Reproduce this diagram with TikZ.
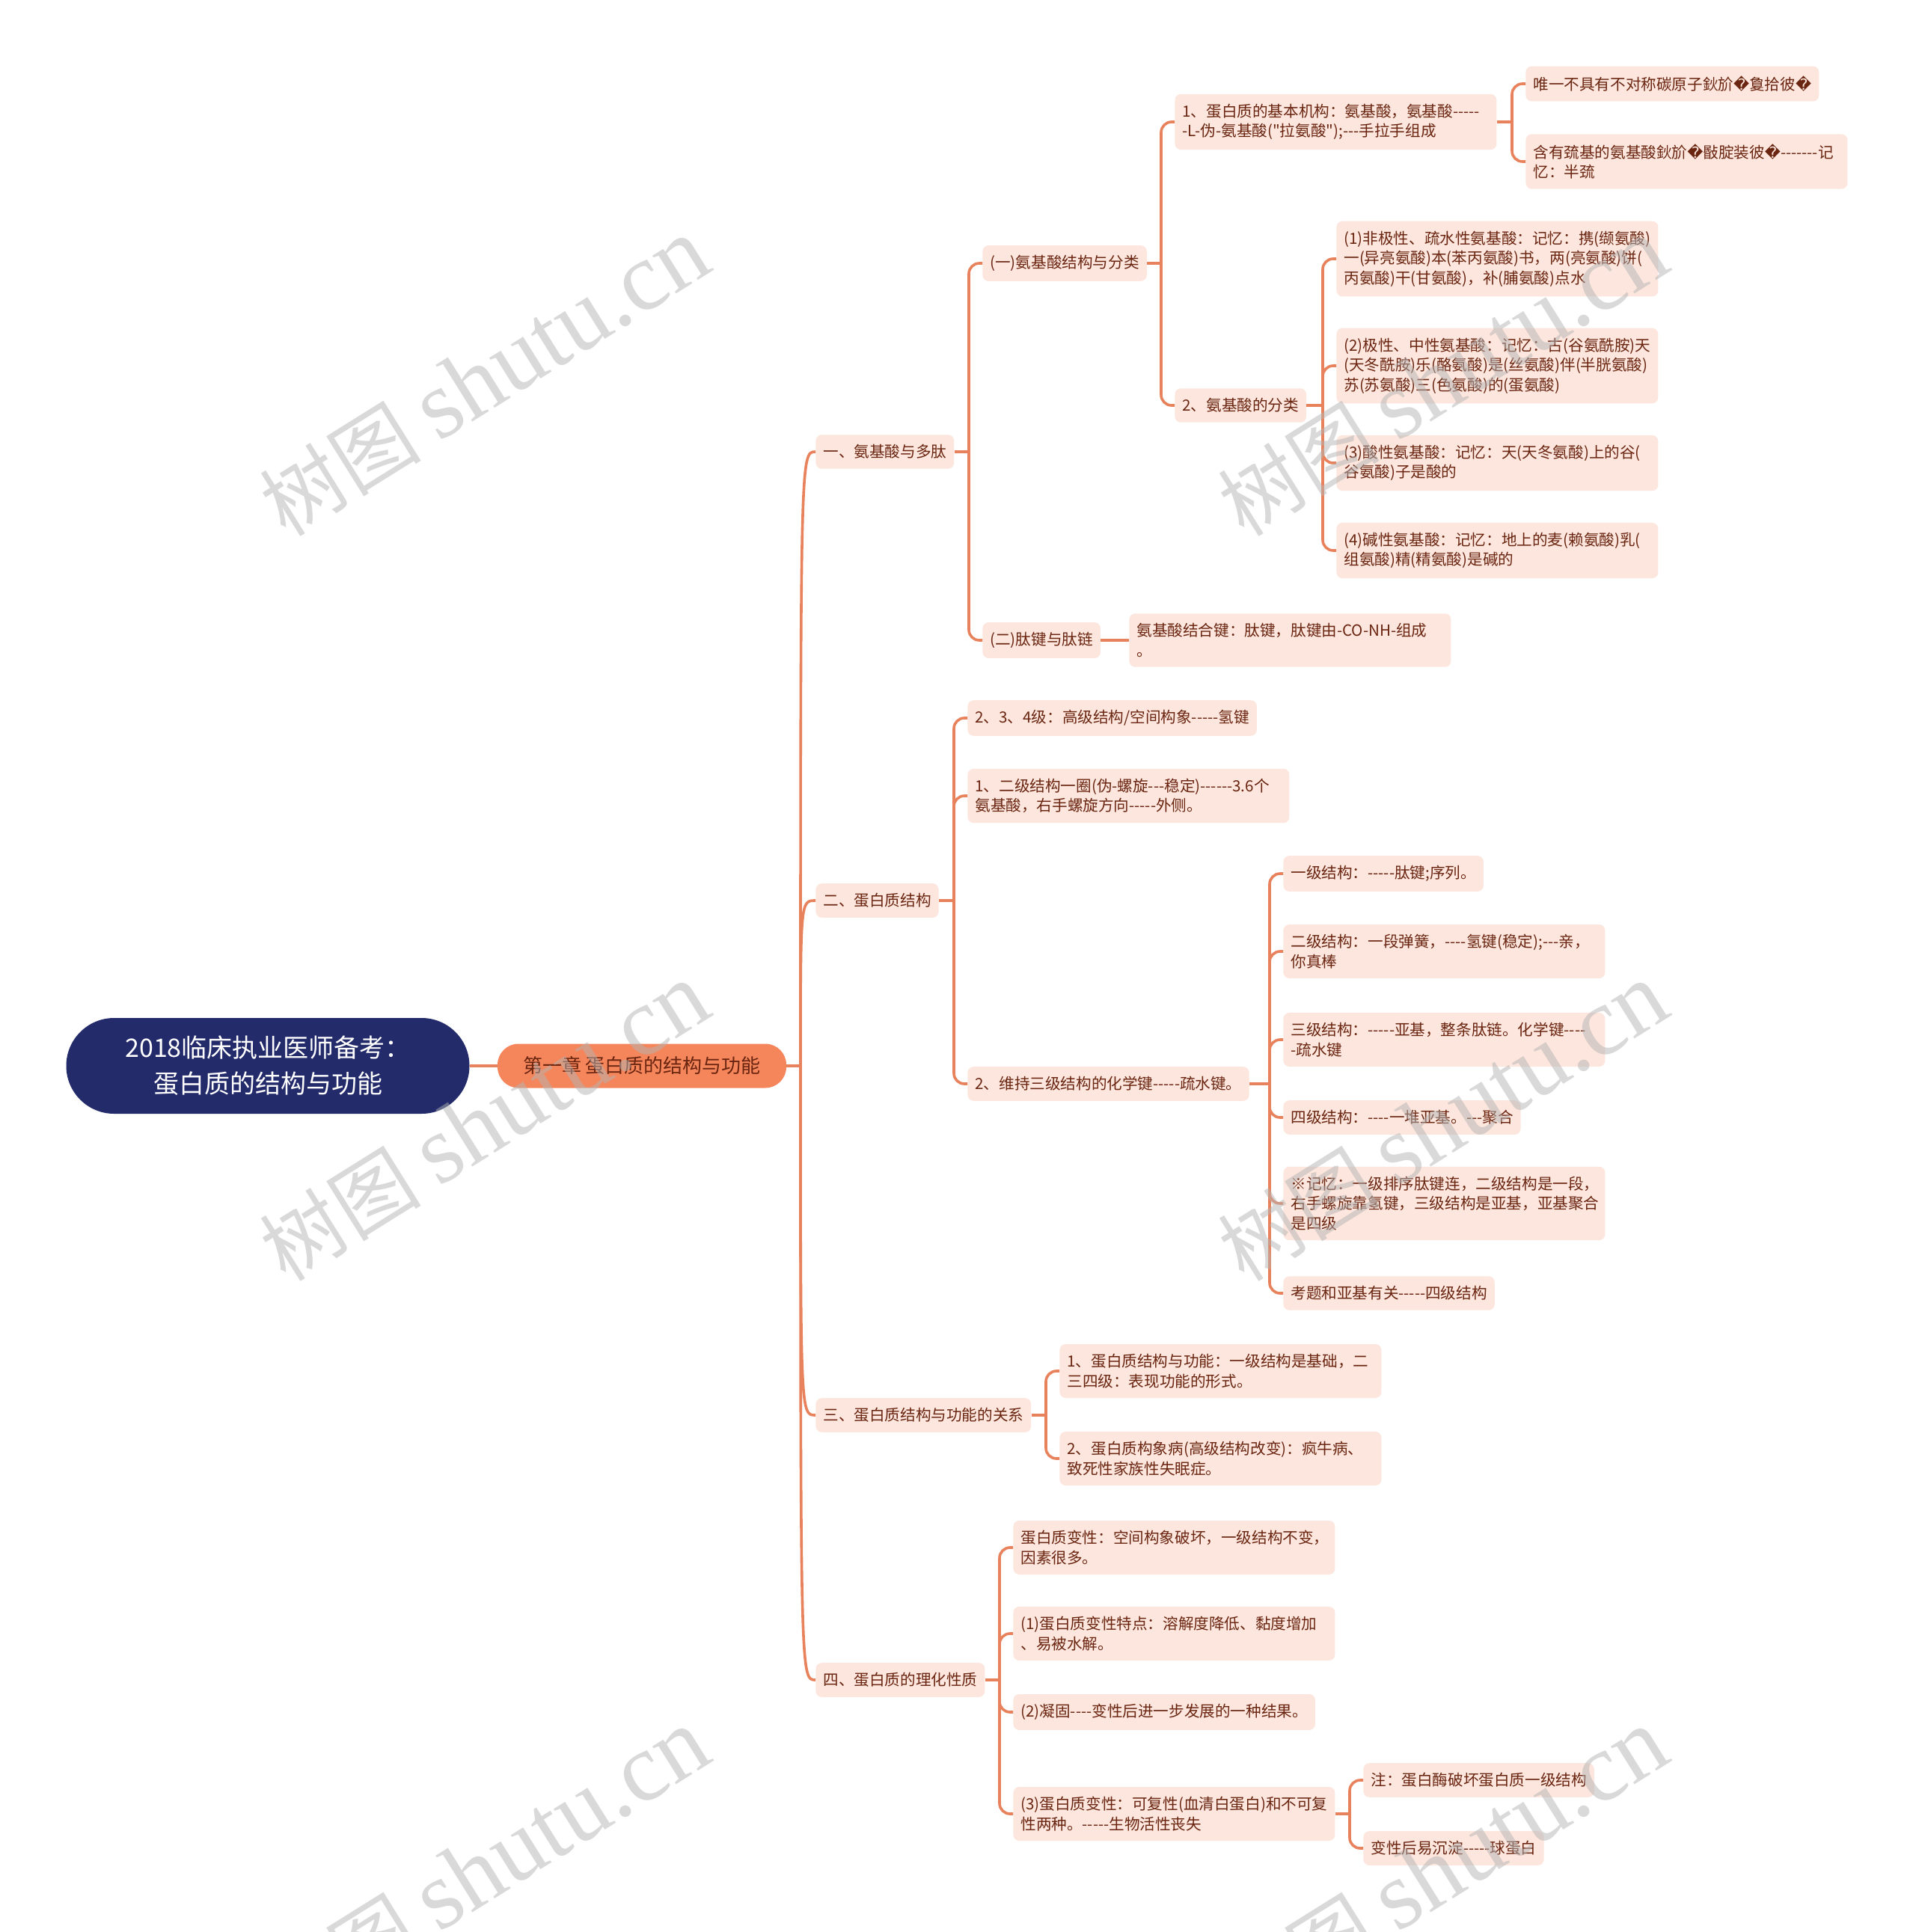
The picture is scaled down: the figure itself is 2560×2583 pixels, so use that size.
\documentclass[tikz,border=0pt]{standalone}
\usepackage{fontspec}
\newfontfamily\cjk{Noto Sans CJK SC}
\newfontfamily\repl{DejaVu Sans}
\newfontfamily\wmlatin{Liberation Serif}
\usetikzlibrary{calc}
\exhyphenpenalty=10000
\hyphenpenalty=10000

\definecolor{linkc}{HTML}{E8825C}
\definecolor{leaffill}{HTML}{FDE6DD}
\definecolor{leaftext}{HTML}{6A2511}
\definecolor{rootfill}{HTML}{232B6B}
\definecolor{chapfill}{HTML}{F5865B}
\definecolor{wmgray}{HTML}{B4B4B4}

% replacement glyph of the garbled text
\newcommand{\bad}{{\repl\char"FFFD}}

\tikzset{
  leaf/.style={fill=leaffill, text=leaftext, rounded corners=4pt, inner xsep=5pt,
    inner ysep=6.6pt, font=\cjk\fontsize{10.3}{13.2}\selectfont, align=left, anchor=west},
  wide/.style={text width=205pt},
  link/.style={draw=linkc, line width=1.8pt, rounded corners=7pt},
  wm/.style={rotate=32, text=wmgray, opacity=0.5},
}

% parent, child that fixes the fork, list of children
\newcommand{\fork}[3]{%
  \coordinate (#1f) at ($(#2.west |- #1.east)+(-18,0)$);
  \draw[link] (#1.east) -- (#1f);
  \foreach \c in {#3} \draw[link] (#1f) |- (\c.west);
}

\begin{document}
\begin{tikzpicture}[x=0.5pt, y=-0.5pt]
  \path[use as bounding box, fill=white] (0,0) rectangle (2560,2583);

  % root and chapter
  \node[fill=rootfill, text=white, rounded corners=32pt, minimum width=269.5pt,
    minimum height=64pt, align=center, font=\cjk\fontsize{17}{24}\selectfont]
    (root) at (358,1425) {2018临床执业医师备考：\\蛋白质的结构与功能};
  \node[fill=chapfill, text=leaftext, rounded corners=14pt, minimum width=193pt,
    minimum height=29.5pt, font=\cjk\fontsize{13}{15}\selectfont]
    (chap) at (858,1425) {第一章 蛋白质的结构与功能};

  % first level
  \node[leaf] (l1) at (1090,604) {一、氨基酸与多肽};
  \node[leaf] (l2) at (1090,1204) {二、蛋白质结构};
  \node[leaf] (l3) at (1090,1892) {三、蛋白质结构与功能的关系};
  \node[leaf] (l4) at (1090,2246) {四、蛋白质的理化性质};

  % amino acids and peptides
  \node[leaf] (a) at (1313,352) {(一)氨基酸结构与分类};
  \node[leaf] (b) at (1313,856) {(二)肽键与肽链};
  \node[leaf, wide] (a1) at (1570,163) {1、蛋白质的基本机构：氨基酸，氨基酸-----\\-L-伪-氨基酸("拉氨酸");---手拉手组成};
  \node[leaf] (a2) at (1570,542) {2、氨基酸的分类};
  \node[leaf] (a11) at (2039,112) {唯一不具有不对称碳原子鈥斺\bad 敻拾彼\bad};
  \node[leaf, wide] (a12) at (2039,216) {含有巯基的氨基酸鈥斺\bad 敯腚装彼\bad -------记\\忆：半巯};
  \node[leaf, wide] (a21) at (1786,346) {(1)非极性、疏水性氨基酸：记忆：携(缬氨酸)\\一(异亮氨酸)本(苯丙氨酸)书，两(亮氨酸)饼(\\丙氨酸)干(甘氨酸)，补(脯氨酸)点水};
  \node[leaf, wide] (a22) at (1786,489) {(2)极性、中性氨基酸：记忆：古(谷氨酰胺)天\\(天冬酰胺)乐(酪氨酸)是(丝氨酸)伴(半胱氨酸)\\苏(苏氨酸)三(色氨酸)的(蛋氨酸)};
  \node[leaf, wide] (a23) at (1786,619) {(3)酸性氨基酸：记忆：天(天冬氨酸)上的谷(\\谷氨酸)子是酸的};
  \node[leaf, wide] (a24) at (1786,736) {(4)碱性氨基酸：记忆：地上的麦(赖氨酸)乳(\\组氨酸)精(精氨酸)是碱的};
  \node[leaf, wide] (b1) at (1509,856) {氨基酸结合键：肽键，肽键由-CO-NH-组成\\。};

  % protein structure
  \node[leaf] (c1) at (1293,960) {2、3、4级：高级结构/空间构象-----氢键};
  \node[leaf, wide] (c2) at (1293,1064) {1、二级结构一圈(伪-螺旋---稳定)------3.6个\\氨基酸，右手螺旋方向-----外侧。};
  \node[leaf] (c3) at (1293,1449) {2、维持三级结构的化学键-----疏水键。};
  \node[leaf] (c31) at (1715,1168) {一级结构：-----肽键;序列。};
  \node[leaf, wide] (c32) at (1715,1272) {二级结构：一段弹簧，----氢键(稳定);---亲，\\你真棒};
  \node[leaf, wide] (c33) at (1715,1390) {三级结构：-----亚基，整条肽链。化学键----\\-疏水键};
  \node[leaf] (c34) at (1715,1494) {四级结构：----一堆亚基。---聚合};
  \node[leaf, wide] (c35) at (1715,1609) {※记忆：一级排序肽键连，二级结构是一段，\\右手螺旋靠氢键，三级结构是亚基，亚基聚合\\是四级};
  \node[leaf] (c36) at (1715,1729) {考题和亚基有关-----四级结构};

  % structure and function
  \node[leaf, wide] (d1) at (1416,1833) {1、蛋白质结构与功能：一级结构是基础，二\\三四级：表现功能的形式。};
  \node[leaf, wide] (d2) at (1416,1950) {2、蛋白质构象病(高级结构改变)：疯牛病、\\致死性家族性失眠症。};

  % physicochemical properties
  \node[leaf, wide] (e1) at (1354,2069) {蛋白质变性：空间构象破坏，一级结构不变，\\因素很多。};
  \node[leaf, wide] (e2) at (1354,2184) {(1)蛋白质变性特点：溶解度降低、黏度增加\\、易被水解。};
  \node[leaf] (e3) at (1354,2289) {(2)凝固----变性后进一步发展的一种结果。};
  \node[leaf, wide] (e4) at (1354,2425) {(3)蛋白质变性：可复性(血清白蛋白)和不可复\\性两种。-----生物活性丧失};
  \node[leaf] (e41) at (1822,2380) {注：蛋白酶破坏蛋白质一级结构};
  \node[leaf] (e42) at (1822,2471) {变性后易沉淀-----球蛋白};

  % connectors
  \draw[link] (root.east) -- (chap.west);
  \coordinate (t0) at ($(l1.west |- chap.east)+(-20,0)$);
  \draw[link] (chap.east) -- (t0);
  \foreach \n in {l1,l2,l3,l4}
    \draw[link] (t0) .. controls (t0 |- \n.west) and (t0 |- \n.west) .. (\n.west);
  \fork{l1}{a}{a,b}
  \fork{a}{a1}{a1,a2}
  \fork{a1}{a11}{a11,a12}
  \fork{a2}{a21}{a21,a22,a23,a24}
  \draw[link] (b.east) -- (b1.west);
  \fork{l2}{c1}{c1,c2,c3}
  \fork{c3}{c31}{c31,c32,c33,c34,c35,c36}
  \fork{l3}{d1}{d1,d2}
  \fork{l4}{e1}{e1,e2,e3,e4}
  \fork{e4}{e41}{e41,e42}

  % watermark
  \foreach \x/\y in {648/505, 1929/505, 648/1501, 1929/1501, 648/2498, 1929/2498}
    \node[wm] (wm-\x-\y) at (\x,\y) {\cjk\fontsize{54}{54}\selectfont 树图 {\wmlatin\fontsize{65}{65}\selectfont shutu.cn}};
\end{tikzpicture}
\end{document}
